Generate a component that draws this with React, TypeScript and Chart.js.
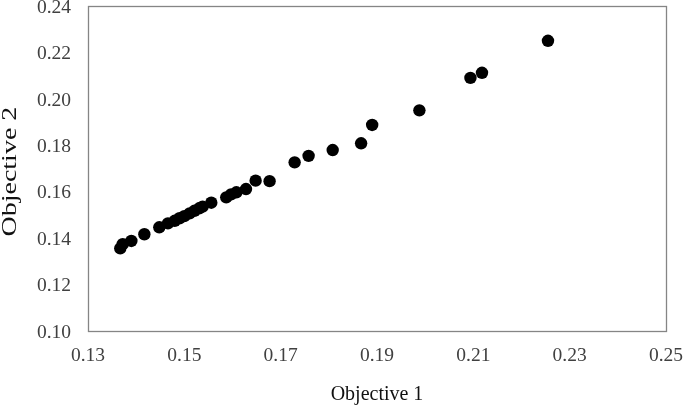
import React, { useEffect, useRef } from "react";
import { Chart, registerables } from "chart.js";

Chart.register(...registerables);

const objective1: number[] = [
  0.1367, 0.1372, 0.139, 0.1417, 0.1448, 0.1466, 0.148, 0.149, 0.15, 0.1511,
  0.1521, 0.1531, 0.1538, 0.1556, 0.1587, 0.1597, 0.1608, 0.1628, 0.1648, 0.1677,
  0.1729, 0.1758, 0.1808, 0.1867, 0.189, 0.1988, 0.2094, 0.2118, 0.2255,
];
const objective2: number[] = [
  0.1356, 0.1374, 0.1388, 0.1417, 0.1447, 0.1464, 0.1475, 0.1486, 0.1495, 0.1507,
  0.1518, 0.1529, 0.1536, 0.1553, 0.1576, 0.1589, 0.1598, 0.1612, 0.1648, 0.1646,
  0.1727, 0.1755, 0.178, 0.1809, 0.1888, 0.1951, 0.2091, 0.2113, 0.2251,
];

const xMin = 0.13, xMax = 0.25, xStep = 0.02;
const yMin = 0.1, yMax = 0.24, yStep = 0.02;
const xTitle = "Objective 1";
const yTitle = "Objective 2";

const FONT = "'Liberation Serif', 'Times New Roman', serif";

const boxPlugin = {
  id: "plotBox",
  afterDraw(chart: any) {
    const { ctx, chartArea } = chart;
    const { left, right, top, bottom } = chartArea;
    ctx.save();
    ctx.strokeStyle = "#858585";
    ctx.lineWidth = 1.3;
    ctx.strokeRect(Math.round(left) + 0.5, Math.round(top) + 0.5, Math.round(right - left), Math.round(bottom - top));
    ctx.restore();
  },
};

// y-axis title, drawn as text rotated and stretched along its length like the reference
const yTitlePlugin = {
  id: "yTitle",
  afterDraw(chart: any) {
    const { ctx, chartArea } = chart;
    const cy = (chartArea.top + chartArea.bottom) / 2 + 3;
    ctx.save();
    ctx.translate(10.5, cy);
    ctx.rotate(-Math.PI / 2);
    ctx.scale(1.4, 1);
    ctx.font = `20px ${FONT}`;
    ctx.fillStyle = "#111111";
    ctx.textAlign = "center";
    ctx.textBaseline = "middle";
    ctx.fillText(yTitle, 0, 0);
    ctx.restore();
  },
};

export default function App() {
  const ref = useRef<HTMLCanvasElement | null>(null);

  useEffect(() => {
    document.body.style.margin = "0";
    const canvas = ref.current;
    if (!canvas) return;
    const points = objective1.map((x, i) => ({ x, y: objective2[i] }));
    const chart = new Chart(canvas, {
      type: "scatter",
      data: {
        datasets: [
          {
            label: yTitle,
            data: points,
            pointRadius: 6.2,
            pointHoverRadius: 6.2,
            backgroundColor: "#000000",
            borderColor: "#000000",
            borderWidth: 0,
          },
        ],
      },
      plugins: [boxPlugin, yTitlePlugin],
      options: {
        animation: false,
        responsive: false,
        maintainAspectRatio: false,
        devicePixelRatio: 1,
        layout: { padding: { left: 0, right: 19, top: 6, bottom: 0 } },
        plugins: { legend: { display: false }, tooltip: { enabled: false } },
        scales: {
          x: {
            type: "linear",
            min: xMin,
            max: xMax,
            grid: { display: false, drawTicks: false },
            border: { display: false },
            ticks: {
              stepSize: xStep,
              padding: 13,
              color: "#404040",
              font: { family: FONT, size: 19.5 },
              callback: (v: any) => Number(v).toFixed(2),
            },
            title: {
              display: true,
              text: xTitle,
              color: "#111111",
              font: { family: FONT, size: 20 },
              padding: 0,
            },
            afterFit: (s: any) => {
              s.height = 76;
              s.paddingLeft = 0;
              s.paddingRight = 0;
            },
          },
          y: {
            type: "linear",
            min: yMin,
            max: yMax,
            grid: { display: false, drawTicks: false },
            border: { display: false },
            ticks: {
              stepSize: yStep,
              padding: 17,
              labelOffset: 1.5,
              color: "#404040",
              font: { family: FONT, size: 19.5 },
              callback: (v: any) => Number(v).toFixed(2),
            },
            title: { display: false },
            afterFit: (s: any) => {
              s.width = 88;
              s.paddingTop = 0;
              s.paddingBottom = 0;
            },
          },
        },
      },
    });
    return () => chart.destroy();
  }, []);

  return (
    <div style={{ position: "absolute", left: 0, top: 0, width: 685, height: 407, background: "#fff" }}>
      <canvas ref={ref} width={685} height={407} style={{ width: 685, height: 407, display: "block" }} />
    </div>
  );
}
